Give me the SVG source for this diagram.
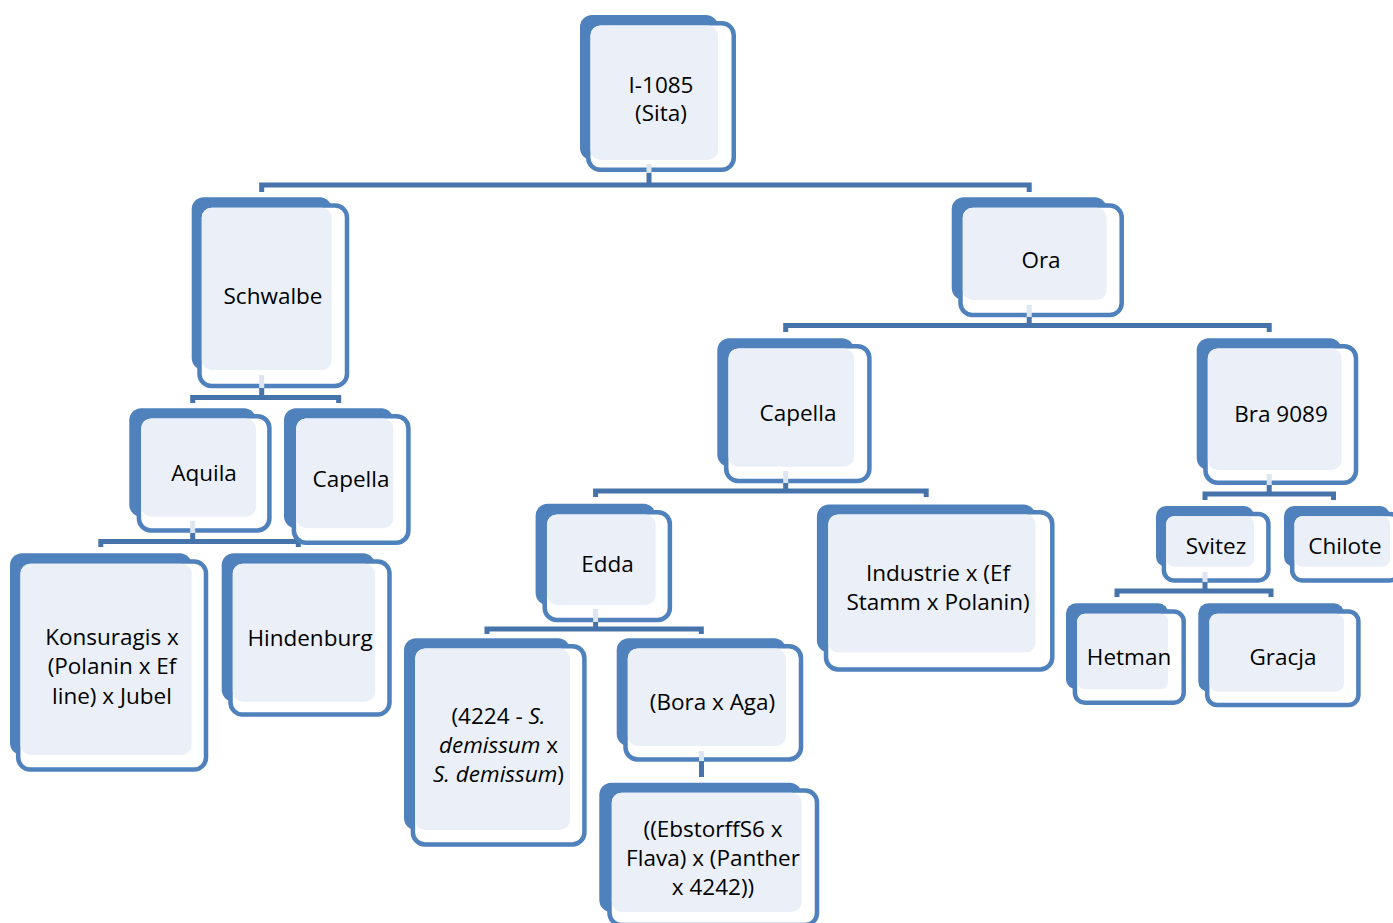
<svg xmlns="http://www.w3.org/2000/svg" width="1393" height="923" viewBox="0 0 1393 923">
<style>
.b{fill:#4F81BD}
.f{fill:#FFFFFF;stroke:#4F81BD;stroke-width:4.5}
.l{fill:#EBF0F8}
.c{fill:none;stroke:#4673AA;stroke-width:5;stroke-linejoin:miter}
.p{fill:#DCE5F1}
text{font-family:"Open Sans","Liberation Sans",sans-serif;font-size:22.5px;fill:#000;text-anchor:middle}
.i{font-style:italic}
</style>
<rect width="1393" height="923" fill="#FFFFFF"/>
<g id="connectors">
<path class="c" d="M649,170 V185 M261.7,192 V185 H1029.2 V192"/>
<path class="c" d="M261.7,386 V397.5 M192.7,403 V397.5 H338.7 V403"/>
<path class="c" d="M192.7,530 V541.5 M100.8,547 V541.5 H298.3 V547"/>
<path class="c" d="M1029.2,315 V325.5 M785.7,332 V325.5 H1269.2 V332"/>
<path class="c" d="M785.7,481 V491 M595.6,497 V491 H926.2 V497"/>
<path class="c" d="M1269.2,483 V494 M1205,500 V494 H1333.5 V500"/>
<path class="c" d="M1205,580 V591 M1117,597 V591 H1271 V597"/>
<path class="c" d="M595.6,620 V629 M487,634 V629 H701.3 V634"/>
<path class="c" d="M701.5,759 V777"/>
</g>
<g id="n-i1085">
<rect class="b" x="580" y="15" width="138" height="145" rx="12"/>
<rect class="f" x="588.25" y="23.25" width="145.5" height="146.5" rx="12"/>
<rect class="l" x="590.5" y="25.5" width="127.5" height="134.5" rx="10"/>
<rect class="p" x="646.5" y="164" width="5" height="9"/>
<text x="661" y="93">I-1085</text>
<text x="661" y="121">(Sita)</text>
</g>
<g id="n-schwalbe">
<rect class="b" x="191.7" y="197.3" width="140" height="172.7" rx="12"/>
<rect class="f" x="199.5" y="205.5" width="147.5" height="180.5" rx="12"/>
<rect class="l" x="201.8" y="207.8" width="129.9" height="162.2" rx="10"/>
<rect class="p" x="259.2" y="375" width="5" height="13"/>
<text x="273" y="304">Schwalbe</text>
</g>
<g id="n-ora">
<rect class="b" x="951.7" y="197.3" width="155" height="102.7" rx="12"/>
<rect class="f" x="960.5" y="205.5" width="161.2" height="109.5" rx="12"/>
<rect class="l" x="962.8" y="207.8" width="143.9" height="92.2" rx="10"/>
<rect class="p" x="1026.7" y="305" width="5" height="12"/>
<text x="1041" y="268">Ora</text>
</g>
<g id="n-capella-r">
<rect class="b" x="717.3" y="338.3" width="136.7" height="128.4" rx="12"/>
<rect class="f" x="726.2" y="346.2" width="143.2" height="134.8" rx="12"/>
<rect class="l" x="728.5" y="348.5" width="125.5" height="118.2" rx="10"/>
<rect class="p" x="783.2" y="471" width="5" height="12"/>
<text x="798" y="421">Capella</text>
</g>
<g id="n-bra9089">
<rect class="b" x="1196.7" y="338.3" width="145" height="131.7" rx="12"/>
<rect class="f" x="1205.5" y="346.2" width="150.5" height="136.5" rx="12"/>
<rect class="l" x="1207.8" y="348.5" width="133.9" height="121.5" rx="10"/>
<rect class="p" x="1266.7" y="474" width="5" height="11"/>
<text x="1281" y="422">Bra 9089</text>
</g>
<g id="n-aquila">
<rect class="b" x="129.3" y="408.3" width="126.7" height="108.4" rx="12"/>
<rect class="f" x="138.9" y="416.2" width="130.5" height="114.2" rx="12"/>
<rect class="l" x="141.2" y="418.5" width="114.8" height="98.2" rx="10"/>
<rect class="p" x="190.2" y="521" width="5" height="12"/>
<text x="204" y="481">Aquila</text>
</g>
<g id="n-capella-l">
<rect class="b" x="284" y="408.3" width="109.3" height="120" rx="12"/>
<rect class="f" x="293.9" y="416.2" width="114.5" height="126.5" rx="12"/>
<rect class="l" x="296.2" y="418.5" width="97.1" height="109.8" rx="10"/>
<text x="351" y="487">Capella</text>
</g>
<g id="n-konsuragis">
<rect class="b" x="10" y="553.3" width="181.7" height="201.7" rx="12"/>
<rect class="f" x="18.2" y="561.5" width="187.8" height="208" rx="12"/>
<rect class="l" x="20.5" y="563.8" width="171.2" height="191.2" rx="10"/>
<text x="112" y="644.5">Konsuragis x</text>
<text x="112" y="674">(Polanin x Ef</text>
<text x="112" y="703.5">line) x Jubel</text>
</g>
<g id="n-hindenburg">
<rect class="b" x="221.7" y="553.3" width="153.3" height="148.4" rx="12"/>
<rect class="f" x="230.5" y="561.5" width="159" height="153" rx="12"/>
<rect class="l" x="232.8" y="563.8" width="142.2" height="137.9" rx="10"/>
<text x="310" y="646">Hindenburg</text>
</g>
<g id="n-edda">
<rect class="b" x="535.6" y="503.8" width="120" height="101.1" rx="12"/>
<rect class="f" x="544.7" y="512.2" width="125.2" height="107.7" rx="12"/>
<rect class="l" x="547" y="514.5" width="108.6" height="90.4" rx="10"/>
<rect class="p" x="593.1" y="609" width="5" height="13"/>
<text x="607.5" y="572">Edda</text>
</g>
<g id="n-industrie">
<rect class="b" x="816.9" y="504.5" width="218.7" height="148.1" rx="12"/>
<rect class="f" x="826" y="512.2" width="226.3" height="157.2" rx="12"/>
<rect class="l" x="828.3" y="514.5" width="207.3" height="138.1" rx="10"/>
<text x="938" y="581">Industrie x (Ef</text>
<text x="938" y="610">Stamm x Polanin)</text>
</g>
<g id="n-4224">
<rect class="b" x="404" y="638.3" width="166" height="191.7" rx="12"/>
<rect class="f" x="412.9" y="646.2" width="171.5" height="198.2" rx="12"/>
<rect class="l" x="415.2" y="648.5" width="154.8" height="181.5" rx="10"/>
<text x="498.5" y="724">(4224 - <tspan class="i">S.</tspan></text>
<text x="498.5" y="753"><tspan class="i">demissum</tspan> x</text>
<text x="498.5" y="782"><tspan class="i">S. demissum</tspan>)</text>
</g>
<g id="n-bora">
<rect class="b" x="616.7" y="638.3" width="169.3" height="107.7" rx="12"/>
<rect class="f" x="625.5" y="646.2" width="175.5" height="113.2" rx="12"/>
<rect class="l" x="627.8" y="648.5" width="158.2" height="97.5" rx="10"/>
<rect class="p" x="699" y="751" width="5" height="10"/>
<text x="712.5" y="710">(Bora x Aga)</text>
</g>
<g id="n-ebstorff">
<rect class="b" x="599.3" y="782.7" width="202.4" height="129.3" rx="12"/>
<rect class="f" x="609.5" y="790.5" width="207.5" height="134.5" rx="12"/>
<rect class="l" x="611.8" y="792.8" width="189.9" height="119.2" rx="10"/>
<text x="713" y="837">((EbstorffS6 x</text>
<text x="713" y="866">Flava) x (Panther</text>
<text x="713" y="895">x 4242))</text>
</g>
<g id="n-svitez">
<rect class="b" x="1156" y="506" width="98" height="60.7" rx="10"/>
<rect class="f" x="1163.9" y="513.9" width="104.5" height="66.5" rx="10"/>
<rect class="l" x="1166.2" y="516.2" width="87.8" height="50.5" rx="8"/>
<rect class="p" x="1202.5" y="572" width="5" height="10"/>
<text x="1216" y="554">Svitez</text>
</g>
<g id="n-chilote">
<rect class="b" x="1284" y="506" width="106" height="60.7" rx="10"/>
<rect class="f" x="1292.2" y="513.9" width="107.5" height="66.5" rx="10"/>
<rect class="l" x="1294.5" y="516.2" width="95.5" height="50.5" rx="8"/>
<text x="1345" y="554">Chilote</text>
</g>
<g id="n-hetman">
<rect class="b" x="1066" y="603.3" width="102.3" height="86" rx="10"/>
<rect class="f" x="1074.9" y="611.5" width="108.8" height="91.2" rx="10"/>
<rect class="l" x="1077.2" y="613.8" width="91.1" height="75.5" rx="8"/>
<text x="1129" y="665">Hetman</text>
</g>
<g id="n-gracja">
<rect class="b" x="1198.3" y="603.3" width="145.7" height="88.4" rx="10"/>
<rect class="f" x="1207.2" y="611.5" width="151.2" height="93.5" rx="10"/>
<rect class="l" x="1209.5" y="613.8" width="134.5" height="77.9" rx="8"/>
<text x="1283" y="665">Gracja</text>
</g>
</svg>
